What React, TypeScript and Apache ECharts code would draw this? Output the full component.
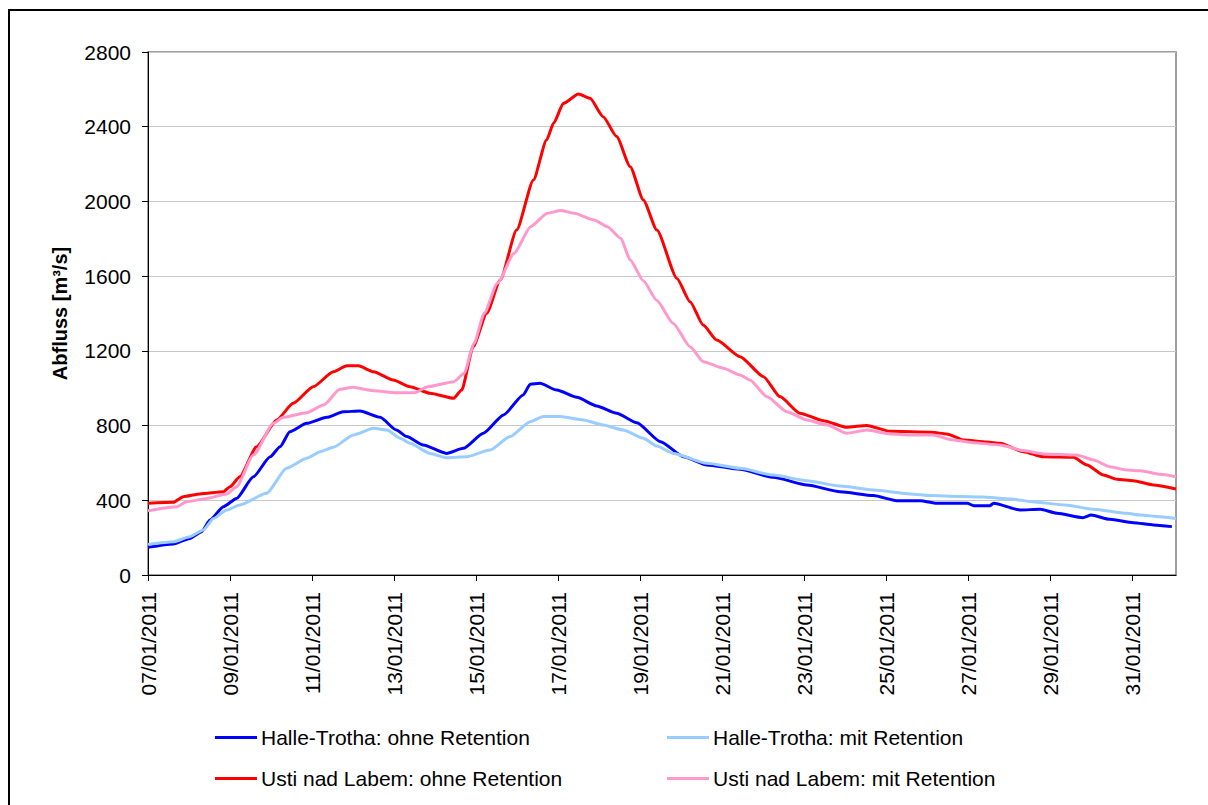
import React, { useEffect, useRef } from "react";
import * as echarts from "echarts";

// x = days since 07/01/2011 00:00, y = discharge [m³/s]
const xTickDays = [0, 2, 4, 6, 8, 10, 12, 14, 16, 18, 20, 22, 24];
const yTicks = [0, 400, 800, 1200, 1600, 2000, 2400, 2800];

const seriesNames = [
  "Halle-Trotha: ohne Retention",
  "Halle-Trotha: mit Retention",
  "Usti nad Labem: ohne Retention",
  "Usti nad Labem: mit Retention",
];
const seriesColors = ["#0000FF", "#99CCFF", "#FF0000", "#FF99CC"];

const halleOhne: [number, number][] = [
  [0, 148], [0.62, 166], [1.02, 196], [1.31, 232], [1.51, 294], [1.84, 366], [2.16, 410],
  [2.57, 526], [2.98, 633], [3.22, 687], [3.46, 767], [3.87, 812], [4.36, 844], [4.76, 874],
  [5.17, 878], [5.66, 844], [6.06, 776], [6.31, 741], [6.71, 696], [7.28, 651], [7.69, 678],
  [8.18, 759], [8.67, 857], [9.15, 964], [9.32, 1021], [9.56, 1026], [9.97, 990], [10.46, 951],
  [10.94, 905], [11.43, 866], [11.92, 815], [12.5, 714], [13.06, 633], [13.63, 589], [14.44, 566],
  [15.25, 523], [16.07, 482], [16.88, 446], [17.69, 425], [18.26, 398], [18.83, 398], [19.24, 384],
  [19.98, 384], [20.14, 371], [20.53, 371], [20.62, 384], [21.27, 348], [21.76, 352], [22.17, 330],
  [22.8, 307], [23.0, 321], [23.46, 298], [24.03, 280], [24.52, 268], [24.97, 259],
];

const halleMit: [number, number][] = [
  [0, 164], [0.62, 178], [1.02, 205], [1.35, 241], [1.6, 303], [1.92, 348], [2.24, 375],
  [2.89, 437], [3.38, 571], [3.87, 625], [4.2, 660], [4.52, 684], [5.01, 750], [5.5, 785],
  [5.83, 776], [6.15, 732], [6.39, 705], [6.88, 651], [7.28, 628], [7.77, 633], [8.34, 669],
  [8.83, 741], [9.32, 821], [9.64, 848], [10.05, 848], [10.62, 830], [11.1, 803], [11.59, 776],
  [12.08, 732], [12.41, 690], [12.81, 651], [13.63, 598], [14.44, 571], [15.25, 535], [16.07, 505],
  [16.88, 476], [17.69, 455], [18.59, 434], [19.07, 425], [19.8, 420], [20.34, 418], [21.06, 407],
  [21.56, 392], [22.37, 375], [23.06, 352], [23.87, 330], [24.2, 321], [24.68, 312], [25.07, 303],
];

const ustiOhne: [number, number][] = [
  [0, 384], [0.62, 389], [0.86, 419], [1.27, 434], [1.84, 446], [2.0, 473], [2.24, 526],
  [2.65, 687], [3.14, 830], [3.54, 919], [4.03, 1008], [4.52, 1088], [4.85, 1120], [5.13, 1120],
  [5.5, 1088], [5.98, 1044], [6.39, 1008], [6.88, 973], [7.45, 946], [7.65, 990], [7.93, 1222],
  [8.26, 1401], [8.59, 1579], [8.99, 1847], [9.4, 2115], [9.72, 2329], [9.89, 2418], [10.13, 2525],
  [10.5, 2575], [10.78, 2552], [11.1, 2454], [11.43, 2347], [11.76, 2186], [12.08, 2008],
  [12.41, 1847], [12.9, 1588], [13.22, 1463], [13.54, 1338], [13.87, 1258], [14.44, 1169],
  [15.01, 1062], [15.41, 955], [15.9, 866], [16.47, 826], [17.04, 791], [17.53, 801], [18.1, 769],
  [19.11, 764], [19.48, 755], [19.89, 723], [20.46, 712], [20.78, 705], [21.35, 660], [21.84, 633],
  [22.57, 630], [22.9, 589], [23.3, 535], [23.63, 512], [24.03, 505], [24.52, 482], [25.07, 460],
];

const ustiMit: [number, number][] = [
  [0, 344], [0.7, 366], [0.94, 392], [1.43, 410], [1.92, 434], [2.16, 473], [2.57, 642],
  [3.06, 812], [3.3, 844], [3.87, 869], [4.28, 910], [4.68, 994], [5.0, 1005], [5.49, 987],
  [6.06, 976], [6.5, 976], [6.82, 1008], [7.46, 1035], [7.71, 1080], [7.95, 1240], [8.2, 1401],
  [8.52, 1562], [8.93, 1722], [9.33, 1865], [9.74, 1937], [10.07, 1951], [10.39, 1937],
  [10.88, 1901], [11.2, 1865], [11.53, 1803], [11.76, 1686], [12.08, 1575], [12.41, 1470],
  [12.81, 1347], [13.22, 1222], [13.54, 1142], [14.03, 1107], [14.44, 1071], [14.68, 1044],
  [15.09, 955], [15.58, 874], [16.07, 830], [16.56, 803], [17.04, 759], [17.53, 776], [18.1, 755],
  [18.59, 750], [19.15, 750], [19.56, 726], [20.13, 708], [20.78, 696], [21.35, 666], [21.84, 648],
  [22.65, 642], [23.06, 616], [23.46, 580], [23.87, 562], [24.2, 558], [24.68, 539], [25.07, 526],
];

const seriesData = [halleOhne, halleMit, ustiOhne, ustiMit];

const FONT = "'Liberation Sans', Arial, Helvetica, sans-serif";
const FS = 21;

function dayLabel(d: number): string {
  const day = 7 + Math.round(d);
  if (day <= 31) return String(day).padStart(2, "0") + "/01/2011";
  return String(day - 31).padStart(2, "0") + "/02/2011";
}

export default function App() {
  const ref = useRef<HTMLDivElement>(null);
  useEffect(() => {
    document.body.style.margin = "0";
    const chart = echarts.init(ref.current!, null, { renderer: "svg" });
    const legendPos = [
      { left: 215, top: 727 },
      { left: 667, top: 727 },
      { left: 215, top: 768 },
      { left: 667, top: 768 },
    ];
    chart.setOption({
      animation: false,
      backgroundColor: "#ffffff",
      textStyle: { fontFamily: FONT },
      graphic: [
        {
          type: "rect",
          shape: { x: 9, y: 10, width: 1300, height: 1000 },
          style: { fill: "none", stroke: "#000", lineWidth: 2 },
          silent: true,
        },
      ],
      legend: seriesNames.map((n, i) => ({
        data: [n],
        left: legendPos[i].left,
        top: legendPos[i].top,
        padding: 0,
        icon: "rect",
        itemWidth: 42,
        itemHeight: 3,
        itemGap: 0,
        selectedMode: false,
        textStyle: { fontSize: FS, color: "#000", fontFamily: FONT, padding: [0, 0, 0, -1] },
      })),
      grid: {
        left: 148,
        top: 52,
        right: 32,
        bottom: 230,
        show: true,
        borderColor: "#808080",
        borderWidth: 1.5,
        backgroundColor: "transparent",
      },
      xAxis: {
        type: "value",
        min: 0,
        max: 25.07,
        interval: 2,
        axisLine: { show: true, onZero: false, lineStyle: { color: "#000", width: 1 } },
        axisTick: { show: true, length: 6, lineStyle: { color: "#000" } },
        splitLine: { show: false },
        axisLabel: {
          rotate: 90,
          margin: 17,
          fontSize: FS,
          color: "#000",
          fontFamily: FONT,
          showMaxLabel: false,
          formatter: (v: number) => (xTickDays.includes(Math.round(v * 100) / 100) ? dayLabel(v) : ""),
        },
      },
      yAxis: {
        type: "value",
        min: yTicks[0],
        max: yTicks[yTicks.length - 1],
        interval: 400,
        name: "Abfluss [m³/s]",
        nameLocation: "middle",
        nameGap: 78,
        nameRotate: 90,
        nameTextStyle: { fontSize: 20, fontWeight: "bold", color: "#000", fontFamily: FONT },
        axisLine: { show: true, lineStyle: { color: "#000", width: 1 } },
        axisTick: { show: true, length: 6, lineStyle: { color: "#000" } },
        splitLine: { show: true, lineStyle: { color: "#c8c8c8", width: 1 } },
        axisLabel: {
          margin: 17,
          fontSize: FS,
          color: "#000",
          fontFamily: FONT,
          formatter: (v: number) => String(v),
        },
      },
      series: seriesNames.map((n, i) => ({
        name: n,
        type: "line",
        data: seriesData[i],
        showSymbol: false,
        symbol: "none",
        smooth: 0.2,
        smoothMonotone: "x",
        color: seriesColors[i],
        lineStyle: { color: seriesColors[i], width: 3 },
        z: 2 + i,
      })),
    });
    return () => chart.dispose();
  }, []);
  return <div ref={ref} style={{ width: 1208, height: 805 }} />;
}
